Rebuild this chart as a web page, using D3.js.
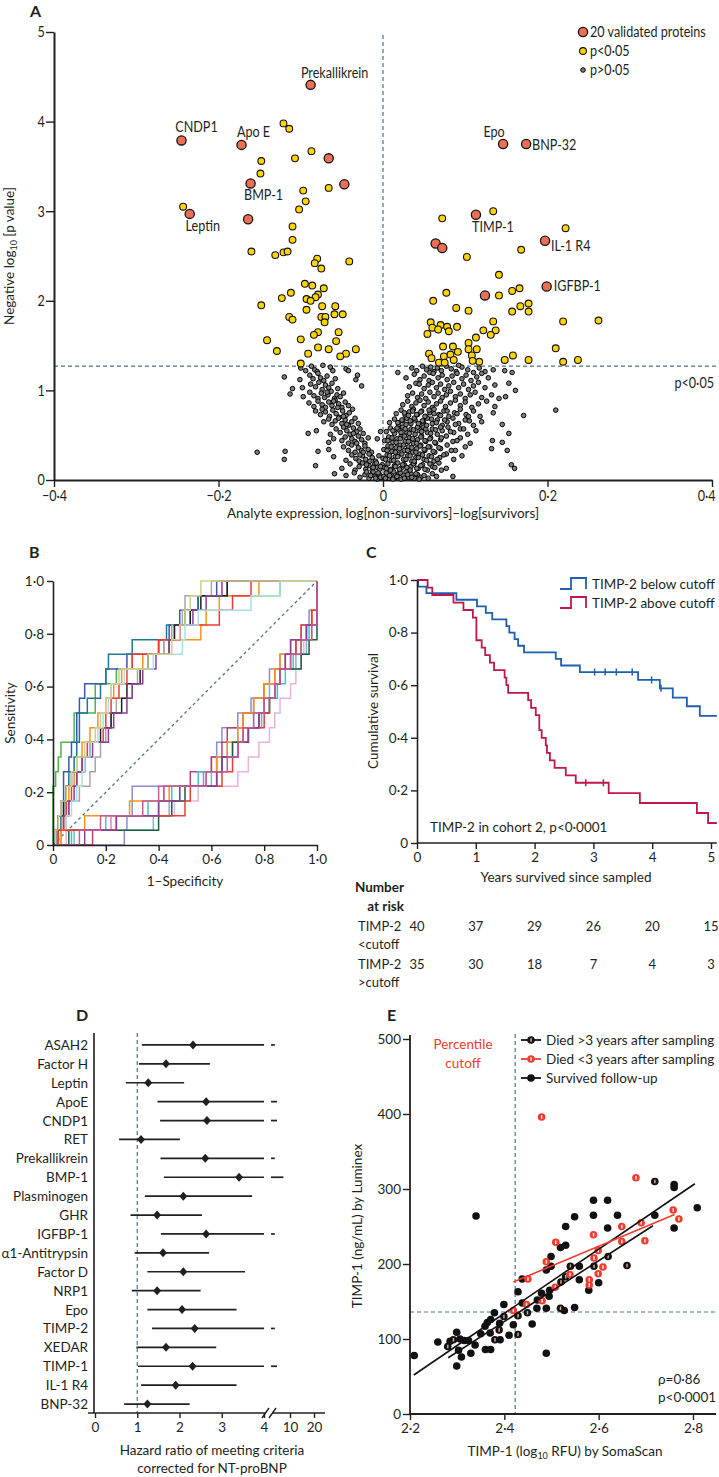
<!DOCTYPE html>
<html><head><meta charset="utf-8">
<script src="https://cdn.jsdelivr.net/npm/d3@7"></script>
<style>body{margin:0;background:#fff}svg{display:block}</style>
</head><body>
<svg id="c" width="719" height="1477"></svg>
<script>
// ---------------- DATA ----------------
// Panel A: volcano
const volcanoXTicks = [-0.4,-0.2,0,0.2,0.4];
const volcanoYTicks = [0,1,2,3,4,5];
const validatedProteins = [
 ["Prekallikrein",-0.088,4.41],["CNDP1",-0.245,3.79],["Apo E",-0.172,3.74],["",-0.066,3.59],
 ["BMP-1",-0.161,3.31],["",-0.047,3.30],["Leptin",-0.235,2.97],["",-0.164,2.91],
 ["Epo",0.146,3.75],["BNP-32",0.174,3.75],["TIMP-1",0.113,2.96],["",0.064,2.64],
 ["",0.072,2.59],["IL-1 R4",0.197,2.67],["IGFBP-1",0.199,2.16],["",0.124,2.06]
];
const significantPoints = [
 [-0.121,3.98],[-0.114,3.92],[-0.087,3.67],[-0.107,3.59],[-0.148,3.56],[-0.149,3.42],[-0.097,3.23],[-0.066,3.26],
 [-0.094,3.11],[-0.102,3.02],[-0.243,3.05],[-0.110,2.83],[-0.110,2.68],[-0.160,2.55],[-0.131,2.51],[-0.121,2.54],
 [-0.116,2.55],[-0.080,2.47],[-0.041,2.44],[-0.083,2.42],[-0.075,2.36],[-0.095,2.19],[-0.086,2.17],[-0.072,2.14],
 [-0.112,2.09],[-0.079,2.07],[-0.082,2.04],[-0.123,2.03],[-0.093,2.02],[-0.088,2.00],[-0.148,1.95],[-0.074,1.94],
 [-0.058,1.94],[-0.093,1.90],[-0.049,1.85],[-0.059,1.85],[-0.075,1.82],[-0.070,1.82],[-0.114,1.82],[-0.110,1.79],
 [-0.071,1.76],[-0.079,1.65],[-0.084,1.62],[-0.054,1.65],[-0.100,1.57],[-0.057,1.55],[-0.141,1.56],[-0.079,1.48],
 [-0.066,1.46],[-0.033,1.46],[-0.129,1.44],[-0.091,1.41],[-0.045,1.41],[-0.052,1.38],[-0.100,1.30],
 [0.072,2.92],[0.134,3.00],[0.222,2.81],[0.168,2.57],[0.102,2.49],[0.141,2.29],[0.166,2.14],[0.157,2.11],
 [0.077,2.09],[0.141,2.06],[0.061,2.00],[0.177,1.97],[0.167,1.94],[0.089,1.92],[0.104,1.89],[0.157,1.88],
 [0.177,1.88],[0.134,1.77],[0.219,1.77],[0.262,1.78],[0.058,1.76],[0.070,1.73],[0.060,1.70],[0.078,1.71],
 [0.090,1.71],[0.067,1.68],[0.080,1.66],[0.137,1.67],[0.122,1.67],[0.131,1.62],[0.054,1.63],[0.113,1.59],
 [0.104,1.53],[0.073,1.49],[0.085,1.49],[0.210,1.47],[0.104,1.46],[0.114,1.46],[0.056,1.41],[0.091,1.43],
 [0.082,1.40],[0.074,1.38],[0.108,1.39],[0.158,1.39],[0.059,1.36],[0.086,1.34],[0.148,1.34],[0.177,1.34],
 [0.219,1.32],[0.237,1.34],[0.117,1.32],[0.068,1.31],[0.075,1.31],[0.109,1.33]
];
const nonSignificantPoints = [
 [-.100,1.25],[-.094,1.22],[-.087,1.27],[-.083,1.23],[-.080,1.21],[-.064,1.26],[-.045,1.24],[-.042,1.22],[-.061,1.22],[-.073,1.28],
 [-.120,1.15],[-.101,1.12],[-.089,1.17],[-.085,1.13],[-.079,1.19],[-.076,1.14],[-.072,1.11],[-.068,1.16],[-.033,1.12],[-.031,1.17],[-.058,1.13],
 [-.098,1.03],[-.110,1.02],[-.088,1.07],[-.082,1.04],[-.078,1.09],[-.074,1.01],[-.070,1.06],[-.066,1.03],[-.062,1.08],[-.026,1.05],[-.055,1.02],
 [-.113,.96],[-.097,.93],[-.089,.98],[-.084,.94],[-.079,.91],[-.075,.97],[-.071,.92],[-.067,.95],[-.063,.99],[-.059,.91],[-.056,.95],[-.052,.93],[-.048,.97],
 [-.090,.86],[-.084,.82],[-.079,.88],[-.074,.84],[-.070,.81],[-.066,.87],[-.062,.83],[-.058,.89],[-.054,.85],[-.050,.81],[-.046,.87],[-.042,.83],
 [-.082,.77],[-.076,.73],[-.070,.76],[-.065,.71],[-.061,.78],[-.057,.74],[-.053,.70],[-.049,.77],[-.045,.72],[-.041,.75],[-.037,.79],[-.074,.79],
 [-.072,.65],[-.066,.68],[-.062,.62],[-.058,.66],[-.054,.69],[-.050,.63],[-.046,.67],[-.042,.61],[-.038,.65],[-.034,.69],[-.030,.63],
 [-.091,.52],[-.081,.55],[-.057,.57],[-.052,.53],[-.048,.59],[-.044,.55],[-.040,.51],[-.036,.58],[-.032,.54],[-.028,.57],[-.024,.52],[-.003,.54],[-.064,.51],
 [-.066,.42],[-.060,.46],[-.050,.44],[-.046,.48],[-.042,.41],[-.038,.46],[-.034,.43],[-.030,.49],[-.026,.45],[-.022,.41],[-.018,.47],[-.007,.46],
 [-.153,.31],[-.119,.32],[-.079,.32],[-.066,.34],[-.048,.37],[-.042,.33],[-.038,.39],[-.034,.31],[-.030,.36],[-.026,.33],[-.022,.38],[-.018,.34],[-.014,.31],
 [-.120,.23],[-.060,.26],[-.045,.22],[-.038,.28],[-.033,.24],[-.029,.21],[-.025,.27],[-.021,.23],[-.017,.29],[-.013,.25],[-.009,.21],[-.005,.27],
 [-.082,.16],[-.050,.13],[-.040,.18],[-.034,.11],[-.029,.15],[-.025,.19],[-.021,.12],[-.017,.16],[-.013,.11],[-.010,.18],[-.007,.14],[-.004,.12],[-.001,.17],
 [-.059,.07],[-.045,.05],[-.035,.08],[-.028,.03],[-.022,.06],[-.017,.02],[-.013,.07],[-.010,.04],[-.007,.01],[-.004,.06],[-.002,.03],[-.012,.09],[-.020,.09],
 [-.003,.03],[-.006,.08],[-.009,.02],[-.015,.05],[-.003,.15],[-.008,.19],[-.012,.14],[-.016,.21],[-.020,.17],[-.024,.31],[-.028,.28],[-.032,.41],[-.036,.52],[-.044,.62],[-.048,.71],[-.055,.81],[-.060,.88],[-.068,.98],
 [.018,1.20],[.035,1.25],[.041,1.22],[.048,1.27],[.053,1.23],[.058,1.26],[.062,1.21],[.066,1.25],[.071,1.22],[.077,1.27],[.083,1.24],[.089,1.21],[.096,1.26],[.103,1.23],[.110,1.20],[.117,1.25],[.124,1.21],[.134,1.23],[.148,1.22],[.057,1.20],[.092,1.28],
 [.028,1.14],[.038,1.18],[.045,1.12],[.050,1.16],[.056,1.11],[.061,1.19],[.067,1.14],[.072,1.17],[.078,1.12],[.084,1.16],[.090,1.19],[.096,1.13],[.101,1.17],[.107,1.11],[.114,1.15],[.120,1.19],[.128,1.14],[.157,1.20],
 [.032,1.04],[.040,1.08],[.044,1.07],[.050,1.02],[.055,1.06],[.060,1.09],[.065,1.03],[.070,1.07],[.075,1.01],[.080,1.05],[.086,1.09],[.092,1.03],[.098,1.07],[.104,1.01],[.110,1.05],[.116,1.09],[.124,1.03],[.136,1.06],[.153,1.08],[.161,1.00],
 [.030,.94],[.036,.97],[.042,.92],[.047,.96],[.052,.91],[.057,.98],[.062,.93],[.067,.97],[.072,.92],[.077,.95],[.082,.99],[.088,.93],[.094,.96],[.100,.91],[.106,.95],[.112,.98],[.120,.92],[.132,.95],[.141,.91],[.149,.93],
 [.024,.84],[.030,.88],[.035,.82],[.040,.86],[.045,.89],[.050,.83],[.055,.87],[.060,.81],[.065,.85],[.070,.88],[.076,.82],[.082,.86],[.088,.89],[.094,.83],[.100,.87],[.108,.81],[.116,.85],[.126,.88],[.136,.82],
 [.016,.74],[.022,.78],[.027,.72],[.032,.76],[.037,.79],[.042,.73],[.047,.77],[.052,.71],[.057,.75],[.062,.79],[.068,.73],[.074,.77],[.080,.71],[.087,.75],[.094,.79],[.101,.73],[.110,.77],[.118,.71],[.134,.75],[.171,.72],[.210,.78],
 [.008,.64],[.014,.68],[.019,.62],[.024,.66],[.029,.69],[.034,.63],[.039,.67],[.044,.61],[.049,.65],[.054,.69],[.060,.63],[.066,.67],[.072,.61],[.078,.65],[.085,.69],[.092,.63],[.100,.67],[.110,.61],[.120,.65],[.145,.62],
 [.004,.54],[.009,.58],[.014,.52],[.019,.56],[.024,.59],[.029,.53],[.034,.57],[.039,.51],[.044,.55],[.049,.59],[.054,.53],[.060,.57],[.066,.51],[.072,.55],[.079,.59],[.086,.53],[.094,.57],[.103,.51],[.113,.55],[.153,.52],
 [.002,.44],[.007,.48],[.012,.42],[.017,.46],[.022,.49],[.027,.43],[.032,.47],[.037,.41],[.042,.45],[.047,.49],[.052,.43],[.058,.47],[.064,.41],[.070,.45],[.077,.49],[.085,.43],[.094,.47],[.106,.41],[.133,.44],[.145,.42],
 [.001,.34],[.006,.38],[.011,.32],[.016,.36],[.021,.39],[.026,.33],[.031,.37],[.036,.31],[.041,.35],[.046,.39],[.051,.33],[.057,.37],[.063,.31],[.070,.35],[.078,.39],[.088,.33],[.100,.37],[.132,.35],[.151,.33],
 [.000,.24],[.005,.28],[.010,.22],[.015,.26],[.020,.29],[.025,.23],[.030,.27],[.035,.21],[.040,.25],[.045,.29],[.050,.23],[.056,.27],[.062,.21],[.069,.25],[.077,.29],[.086,.23],[.096,.27],
 [.002,.14],[.006,.18],[.010,.12],[.014,.16],[.018,.19],[.022,.13],[.026,.17],[.030,.11],[.034,.15],[.038,.19],[.043,.13],[.048,.17],[.054,.11],[.060,.15],[.068,.19],[.077,.13],[.156,.17],[.160,.13],
 [.001,.04],[.004,.08],[.007,.02],[.010,.06],[.013,.09],[.016,.03],[.019,.07],[.022,.01],[.025,.05],[.028,.09],[.031,.03],[.034,.07],[.038,.02],[.042,.06],[.046,.03],[.085,.04],
 [.003,.02],[.008,.05],[.012,.01],[.017,.04],[.021,.08],[.026,.02],[.030,.06],[.035,.03],[.040,.07],[.044,.01],[.050,.05],[.055,.02],[.060,.07],[.065,.04],
 [.004,.13],[.009,.11],[.015,.15],[.020,.12],[.024,.17],[.029,.14],[.033,.11],[.037,.18],[.041,.13],[.046,.16],[.051,.12],[.057,.18],[.063,.14],[.071,.11],
 [.003,.23],[.008,.27],[.013,.22],[.018,.26],[.023,.29],[.028,.23],[.033,.27],[.038,.21],[.043,.25],[.048,.28],[.053,.22],[.059,.26],[.066,.23],[.074,.28],
 [.005,.33],[.010,.37],[.015,.31],[.020,.35],[.025,.39],[.030,.33],[.035,.36],[.040,.31],[.045,.38],[.050,.34],[.055,.37],[.061,.32],[.068,.36],[.083,.33],
 [.006,.44],[.011,.47],[.016,.42],[.021,.46],[.026,.49],[.031,.43],[.036,.46],[.041,.41],[.046,.48],[.051,.44],[.057,.46],[.063,.42],[.071,.47],[.090,.44],
 [.012,.55],[.017,.58],[.022,.53],[.027,.57],[.032,.52],[.037,.56],[.042,.59],[.047,.54],[.052,.57],[.058,.52],[.064,.56],[.070,.59],[.082,.54],[.098,.57],
 [.018,.64],[.023,.67],[.028,.62],[.033,.66],[.038,.69],[.043,.63],[.048,.66],[.053,.61],[.059,.68],[.065,.64],[.075,.67],[.088,.62],[.105,.66],
 [.026,.75],[.031,.72],[.036,.77],[.041,.73],[.046,.76],[.051,.71],[.056,.78],[.062,.74],[.070,.72],[.078,.77],[.090,.74],[.104,.71]
];
const pThreshold = 1.27;

// Panel B: ROC curves — false-positive rate at which each of 18 sensitivity steps occurs
const rocTicks = [0,0.2,0.4,0.6,0.8,1.0];
const rocColors = ["#4cb848","#3a56b5","#1f7790","#f7941d","#a6a6a6","#231f20","#ef3b36","#8b3f96","#a9dfe6","#cfcf8f",
                   "#8e8cc8","#b5407d","#e6b3da","#78b4d8","#3cc6cc","#f7941d","#1b5e3b","#ef3b36","#8b3f96","#c45c9c"];
const rocSteps = [
 [0,0,0,0,0.01,0.02,0.03,0.08,0.08,0.16,0.16,0.24,0.30,0.40,0.46,0.52,0.55,0.86],
 [0.01,0.02,0.03,0.04,0.04,0.06,0.07,0.09,0.09,0.10,0.12,0.20,0.28,0.40,0.44,0.48,0.55,0.62],
 [0.02,0.03,0.04,0.05,0.06,0.08,0.09,0.10,0.10,0.13,0.18,0.20,0.21,0.30,0.43,0.50,0.55,0.66],
 [0.03,0.04,0.05,0.06,0.08,0.09,0.11,0.14,0.17,0.20,0.23,0.26,0.34,0.42,0.56,0.58,0.63,0.78],
 [0.02,0.05,0.06,0.10,0.14,0.16,0.18,0.20,0.22,0.24,0.30,0.32,0.36,0.42,0.45,0.49,0.50,0.60],
 [0.01,0.02,0.04,0.05,0.07,0.12,0.14,0.18,0.22,0.26,0.28,0.33,0.36,0.44,0.46,0.52,0.56,0.66],
 [0.03,0.04,0.05,0.07,0.09,0.11,0.13,0.19,0.20,0.22,0.25,0.28,0.30,0.40,0.48,0.63,0.68,0.75],
 [0.02,0.04,0.06,0.08,0.09,0.11,0.15,0.21,0.23,0.28,0.30,0.34,0.39,0.44,0.48,0.53,0.58,0.64],
 [0.03,0.05,0.07,0.09,0.11,0.12,0.14,0.17,0.19,0.21,0.22,0.27,0.38,0.49,0.50,0.55,0.75,0.86],
 [0.01,0.02,0.03,0.05,0.07,0.09,0.12,0.16,0.18,0.20,0.22,0.25,0.36,0.45,0.48,0.50,0.52,0.56],
 [0.27,0.28,0.30,0.30,0.57,0.60,0.62,0.64,0.70,0.75,0.80,0.82,0.86,0.90,0.94,0.97,1.0,1.0],
 [0.15,0.22,0.40,0.42,0.52,0.60,0.64,0.66,0.72,0.76,0.80,0.84,0.88,0.92,0.96,0.98,1.0,1.0],
 [0.05,0.22,0.46,0.55,0.70,0.74,0.78,0.82,0.84,0.86,0.90,0.92,0.94,0.95,0.96,0.98,1.0,1.0],
 [0.08,0.38,0.44,0.48,0.60,0.62,0.66,0.70,0.76,0.80,0.82,0.86,0.92,0.96,0.98,1.0,1.0,1.0],
 [0.07,0.20,0.36,0.45,0.55,0.62,0.68,0.74,0.79,0.82,0.85,0.88,0.91,0.94,0.97,1.0,1.0,1.0],
 [0.03,0.12,0.29,0.44,0.58,0.62,0.66,0.70,0.72,0.76,0.80,0.84,0.86,0.94,0.96,0.98,1.0,1.0],
 [0.06,0.40,0.45,0.50,0.62,0.64,0.68,0.74,0.78,0.82,0.84,0.86,0.94,0.97,1.0,1.0,1.0,1.0],
 [0.02,0.24,0.50,0.52,0.64,0.68,0.70,0.72,0.80,0.82,0.84,0.86,0.90,0.92,0.94,0.98,1.0,1.0],
 [0.12,0.24,0.40,0.48,0.62,0.64,0.70,0.74,0.78,0.80,0.84,0.86,0.88,0.90,0.96,1.0,1.0,1.0],
 [0.10,0.18,0.34,0.40,0.58,0.66,0.70,0.72,0.76,0.80,0.84,0.86,0.90,0.94,0.98,1.0,1.0,1.0]
];

// Panel C: Kaplan–Meier
const kmYears = [0,1,2,3,4,5];
const kmSurvTicks = [0,0.2,0.4,0.6,0.8,1.0];
const kmBelow = [[0,1],[0.02,0.975],[0.16,0.95],[0.67,0.925],[1.02,0.90],[1.17,0.875],[1.28,0.85],[1.52,0.825],[1.57,0.80],[1.66,0.775],[1.72,0.75],[1.82,0.725],[2.36,0.70],[2.45,0.675],[2.77,0.65],[3.76,0.62],[4.13,0.588],[4.35,0.553],[4.59,0.52],[4.81,0.483],[5.1,0.483]];
const kmAbove = [[0,1],[0.18,0.971],[0.26,0.943],[0.62,0.914],[0.79,0.886],[0.95,0.857],[1.01,0.771],[1.10,0.743],[1.16,0.714],[1.24,0.686],[1.31,0.657],[1.49,0.629],[1.52,0.60],[1.55,0.571],[1.89,0.543],[1.94,0.514],[2.02,0.486],[2.08,0.429],[2.12,0.40],[2.19,0.371],[2.21,0.343],[2.26,0.314],[2.34,0.286],[2.53,0.257],[2.70,0.229],[3.26,0.19],[3.79,0.152],[4.76,0.114],[4.95,0.076],[5.1,0.076]];
const kmBelowCensor = [3.02,3.20,3.39,3.66,3.99,4.15];
const kmAboveCensor = [2.87,3.17];
const atRiskBelow = [40,37,29,26,20,15];
const atRiskAbove = [35,30,18,7,4,3];

// Panel D: forest plot
const forestNames = ["ASAH2","Factor H","Leptin","ApoE","CNDP1","RET","Prekallikrein","BMP-1","Plasminogen","GHR","IGFBP-1","α1-Antitrypsin","Factor D","NRP1","Epo","TIMP-2","XEDAR","TIMP-1","IL-1 R4","BNP-32"];
const forestHR =   [2.32,1.68,1.26,2.63,2.65,1.09,2.61,3.41,2.09,1.47,2.63,1.61,2.09,1.47,2.06,2.36,1.68,2.31,1.91,1.24];
const forestLo =   [1.11,1.04,0.73,1.48,1.54,0.57,1.55,1.63,1.18,0.84,1.56,0.94,1.24,0.87,1.24,1.35,0.98,1.02,1.09,0.69];
const forestHi =   [6.5,2.72,2.11,7.0,7.0,2.01,6.5,8.5,3.72,2.53,6.5,2.70,3.55,2.50,3.35,6.5,2.87,7.0,3.35,2.24];
const forestTicks = [0,1,2,3,4,10,20];

// Panel E: TIMP-1 Luminex vs SomaScan
const eXTicks = [2.2,2.4,2.6,2.8];
const eYTicks = [0,100,200,300,400,500];
const survivedPts = [[2.209,78],[2.259,96],[2.285,97],[2.299,109],[2.299,64],[2.309,76],[2.303,85],[2.315,98],[2.324,98],[2.306,100],[2.329,81],[2.338,92],[2.340,264],[2.350,107],[2.359,117],[2.364,122],[2.360,86],[2.371,86],[2.370,108],[2.371,126],[2.379,135],[2.390,121],[2.391,99],[2.399,146],[2.410,105],[2.419,119],[2.429,163],[2.438,180],[2.438,148],[2.459,120],[2.469,141],[2.479,161],[2.489,141],[2.489,81],[2.489,192],[2.499,210],[2.499,197],[2.496,165],[2.519,222],[2.530,225],[2.530,250],[2.527,138],[2.549,263],[2.549,142],[2.559,197],[2.559,179],[2.589,285],[2.589,265],[2.619,285],[2.619,248],[2.640,265],[2.600,175],[2.579,165],[2.719,265],[2.760,306],[2.760,302],[2.760,248],[2.809,275],[2.495,157],[2.470,152]];
const diedLatePts = [[2.280,90],[2.292,99],[2.380,99],[2.389,112],[2.399,130],[2.429,131],[2.429,106],[2.449,135],[2.519,141],[2.520,176],[2.540,197],[2.590,197],[2.620,210],[2.660,198],[2.719,310],[2.530,183]];
const diedEarlyPts = [[2.479,396],[2.679,315],[2.758,272],[2.770,260],[2.690,255],[2.649,250],[2.698,231],[2.649,230],[2.589,239],[2.509,229],[2.599,218],[2.590,208],[2.489,203],[2.609,196],[2.599,187],[2.539,186],[2.450,180],[2.580,179],[2.580,172],[2.508,169],[2.447,146],[2.480,151],[2.419,138]];
const fitAll = [[2.208,52],[2.804,307]];
const fitLate = [[2.281,75],[2.715,251]];
const fitEarly = [[2.419,176],[2.761,266]];
const eCutoffX = 2.423, eCutoffY = 136;

// ---------------- DRAWING ----------------
const svg = d3.select("#c");
const INK = "#231f20", DASH = "#4e7384";
const FR = 'Lato,"Open Sans",sans-serif';
const NARROW = 0.84;
const dotFmt = v => v === 0 ? "0" : d3.format(".1f")(v).replace("-", "−").replace(".", "·");

function styleAxis(g, fs, sw, sx) {
  g.select(".domain").attr("stroke", INK).attr("stroke-width", sw || 1.6);
  g.selectAll(".tick line").attr("stroke", INK).attr("stroke-width", 1.4);
  const t = g.selectAll(".tick text").attr("font-family", FR).attr("font-size", fs).attr("fill", INK);
  if (sx) t.attr("transform", `scale(${sx},1)`);
}
function txt(x, y, s, opt) {
  opt = opt || {};
  const t = svg.append("text").text(s)
    .attr("font-family", FR).attr("font-size", opt.size || 13.5)
    .attr("fill", opt.fill || INK).attr("text-anchor", opt.anchor || "start");
  if (opt.weight) t.attr("font-weight", opt.weight);
  if (opt.rotate) t.attr("x", x).attr("y", y).attr("transform", `rotate(-90,${x},${y})`);
  else if (opt.sx) t.attr("x", 0).attr("y", 0).attr("transform", `translate(${x},${y}) scale(${opt.sx},1)`);
  else t.attr("x", x).attr("y", y);
  return t;
}

// ===== Panel A =====
const xA = d3.scaleLinear().domain([-0.4, 0.4]).range([54, 712]);
const yA = d3.scaleLinear().domain([0, 5]).range([480, 32]);
txt(30, 17, "A", {size: 16, weight: "bold"});
svg.append("line").attr("x1", xA(0)).attr("x2", xA(0)).attr("y1", yA(5) + 3).attr("y2", yA(0))
  .attr("stroke", DASH).attr("stroke-width", 1.2).attr("stroke-dasharray", "4,3");
svg.append("line").attr("x1", xA(-0.4)).attr("x2", xA(0.4) + 4).attr("y1", yA(pThreshold)).attr("y2", yA(pThreshold))
  .attr("stroke", DASH).attr("stroke-width", 1.2).attr("stroke-dasharray", "4,3");
const gAx = svg.append("g").attr("transform", "translate(0,480)")
  .call(d3.axisBottom(xA).tickValues(volcanoXTicks).tickSize(7).tickSizeOuter(0).tickPadding(3).tickFormat(dotFmt));
styleAxis(gAx, 15, 2, NARROW);
gAx.selectAll(".tick text").filter(d => d === 0.4).attr("text-anchor", "end").attr("dx", "0.25em");
const gAy = svg.append("g").attr("transform", "translate(54,0)")
  .call(d3.axisLeft(yA).tickValues(volcanoYTicks).tickSize(8).tickSizeOuter(0).tickPadding(3).tickFormat(d3.format("d")));
styleAxis(gAy, 15, 2, NARROW);
txt(383, 518, "Analyte expression, log[non-survivors]–log[survivors]", {anchor: "middle", size: 13.5});
const yl = svg.append("text").attr("transform", "translate(14,256) rotate(-90)").attr("text-anchor", "middle")
  .attr("font-family", FR).attr("font-size", 13.5).attr("fill", INK);
yl.append("tspan").text("Negative log");
yl.append("tspan").text("10").attr("font-size", 9).attr("dy", 3);
yl.append("tspan").text(" [p value]").attr("dy", -3);
txt(714, 388, "p<0·05", {size: 15, anchor: "end", sx: NARROW});

svg.append("g").selectAll("circle").data(nonSignificantPoints).join("circle")
  .attr("cx", d => xA(d[0])).attr("cy", d => yA(d[1])).attr("r", 2.3)
  .attr("fill", "#7d7d7d").attr("stroke", "#000").attr("stroke-width", 1);
svg.append("g").selectAll("circle").data(significantPoints).join("circle")
  .attr("cx", d => xA(d[0])).attr("cy", d => yA(d[1])).attr("r", 3.4)
  .attr("fill", "#ffd400").attr("stroke", "#111").attr("stroke-width", 1.1);
svg.append("g").selectAll("circle").data(validatedProteins).join("circle")
  .attr("cx", d => xA(d[1])).attr("cy", d => yA(d[2])).attr("r", 4.6)
  .attr("fill", "#ea6f55").attr("stroke", "#111").attr("stroke-width", 1.3);
const labelLayout = {
  "Prekallikrein": [24, -7, "middle"], "CNDP1": [15, -8, "middle"], "Apo E": [12, -8, "middle"],
  "BMP-1": [13, 17, "middle"], "Leptin": [13, 17, "middle"], "Epo": [-9, -7, "middle"],
  "BNP-32": [6, 6, "start"], "TIMP-1": [17, 17, "middle"], "IL-1 R4": [6, 10, "start"], "IGFBP-1": [7, 5, "start"]
};
validatedProteins.filter(d => d[0]).forEach(d => {
  const L = labelLayout[d[0]];
  txt(xA(d[1]) + L[0], yA(d[2]) + L[1], d[0], {size: 15, anchor: L[2], sx: NARROW});
});
// legend A
const legA = [["20 validated proteins", 4.6, "#ea6f55", 1.3, "#111"], ["p<0·05", 3.4, "#ffd400", 1.1, "#111"], ["p>0·05", 2.3, "#7d7d7d", 1, "#000"]];
legA.forEach((d, i) => {
  const y = 32 + i * 19;
  svg.append("circle").attr("cx", 583).attr("cy", y).attr("r", d[1]).attr("fill", d[2]).attr("stroke", d[4]).attr("stroke-width", d[3]);
  txt(590, y + 5, d[0], {size: 15, sx: NARROW});
});

// ===== Panel B =====
const xB = d3.scaleLinear().domain([0, 1]).range([53, 317]);
const yB = d3.scaleLinear().domain([0, 1]).range([845, 581]);
txt(29, 558, "B", {size: 16, weight: "bold"});
svg.append("line").attr("x1", xB(0)).attr("y1", yB(0)).attr("x2", xB(1)).attr("y2", yB(1))
  .attr("stroke", DASH).attr("stroke-width", 1.3).attr("stroke-dasharray", "3,3");
const rocLine = d3.line().x(d => xB(d[0])).y(d => yB(d[1]));
const rocPaths = rocSteps.map(st => {
  const pts = [[0, 0]];
  st.forEach((f, k) => { pts.push([f, k / 18]); pts.push([f, (k + 1) / 18]); });
  pts.push([1, 1]);
  return pts;
});
svg.append("g").selectAll("path").data(rocPaths).join("path")
  .attr("d", rocLine).attr("fill", "none").attr("stroke", (d, i) => rocColors[i]).attr("stroke-width", 1.5);
const gBx = svg.append("g").attr("transform", "translate(0,845)")
  .call(d3.axisBottom(xB).tickValues(rocTicks).tickSize(6).tickSizeOuter(0).tickPadding(3).tickFormat(dotFmt));
styleAxis(gBx, 13.5);
const gBy = svg.append("g").attr("transform", "translate(53,0)")
  .call(d3.axisLeft(yB).tickValues(rocTicks).tickSize(6).tickSizeOuter(0).tickPadding(3).tickFormat(dotFmt));
styleAxis(gBy, 13.5);
txt(185, 886, "1–Specificity", {anchor: "middle"});
txt(15, 713, "Sensitivity", {anchor: "middle", rotate: true});

// ===== Panel C =====
const xC = d3.scaleLinear().domain([0, 5]).range([417, 711]);
const yC = d3.scaleLinear().domain([0, 1]).range([843, 580]);
txt(366, 558, "C", {size: 16, weight: "bold"});
const kmLine = d3.line().x(d => xC(d[0])).y(d => yC(d[1])).curve(d3.curveStepAfter);
const stepAt = (arr, t) => { let s = 1; arr.forEach(p => { if (p[0] <= t) s = p[1]; }); return s; };
[[kmBelow, "#1f5fae", kmBelowCensor], [kmAbove, "#c0174a", kmAboveCensor]].forEach(([arr, col, cens]) => {
  svg.append("path").datum(arr).attr("d", kmLine).attr("fill", "none").attr("stroke", col).attr("stroke-width", 1.8);
  svg.append("g").selectAll("line").data(cens).join("line")
    .attr("x1", d => xC(d)).attr("x2", d => xC(d))
    .attr("y1", d => yC(stepAt(arr, d)) - 3.5).attr("y2", d => yC(stepAt(arr, d)) + 3.5)
    .attr("stroke", col).attr("stroke-width", 1.5);
});
const gCx = svg.append("g").attr("transform", "translate(0,843)")
  .call(d3.axisBottom(xC).tickValues(kmYears).tickSize(6).tickSizeOuter(0).tickPadding(3).tickFormat(d3.format("d")));
styleAxis(gCx, 13.5);
gCx.select(".domain").attr("d", `M${xC(0)},0H${xC(5.1)}`);
const gCy = svg.append("g").attr("transform", "translate(417,0)")
  .call(d3.axisLeft(yC).tickValues(kmSurvTicks).tickSize(6).tickSizeOuter(0).tickPadding(3).tickFormat(dotFmt));
styleAxis(gCy, 13.5);
txt(378, 711, "Cumulative survival", {anchor: "middle", rotate: true});
txt(566, 882, "Years survived since sampled", {anchor: "middle"});
txt(430, 832, "TIMP-2 in cohort 2, p<0·0001", {size: 13.5});
[["TIMP-2 below cutoff", "#1f5fae"], ["TIMP-2 above cutoff", "#c0174a"]].forEach((d, i) => {
  const y = 584 + i * 19;
  svg.append("path").attr("d", `M560,${y + 5}H571V${y - 6}H586V${y + 5}`).attr("fill", "none").attr("stroke", d[1]).attr("stroke-width", 1.8);
  txt(592, y + 5, d[0], {size: 13.5});
});
txt(404, 892, "Number", {anchor: "end", weight: "bold", size: 13.5});
txt(404, 911, "at risk", {anchor: "end", weight: "bold", size: 13.5});
txt(358, 931, "TIMP-2", {size: 13});
txt(358, 949, "<cutoff", {size: 13});
txt(358, 969, "TIMP-2", {size: 13});
txt(358, 987, ">cutoff", {size: 13});
kmYears.forEach((yr, i) => {
  txt(xC(yr), 931, atRiskBelow[i], {anchor: "middle", size: 13});
  txt(xC(yr), 969, atRiskAbove[i], {anchor: "middle", size: 13});
});

// ===== Panel D =====
const xD = d3.scaleLinear().domain([0, 4, 10, 20]).range([95, 264, 290, 314]);
const yD = d3.scaleBand().domain(forestNames).range([1035.5, 1413.5]);
const rowY = n => yD(n) + yD.bandwidth() / 2;
txt(76, 1021, "D", {size: 16, weight: "bold"});
svg.append("line").attr("x1", xD(1)).attr("x2", xD(1)).attr("y1", 1033).attr("y2", 1413)
  .attr("stroke", DASH).attr("stroke-width", 1.2).attr("stroke-dasharray", "4,3");
forestNames.forEach((n, i) => {
  const y = rowY(n);
  svg.append("line").attr("x1", xD(forestLo[i])).attr("x2", xD(Math.min(forestHi[i], 4)))
    .attr("y1", y).attr("y2", y).attr("stroke", INK).attr("stroke-width", 1.7);
  if (forestHi[i] > 4) {
    svg.append("line").attr("x1", xD(4) + 7).attr("x2", xD(forestHi[i])).attr("y1", y).attr("y2", y)
      .attr("stroke", INK).attr("stroke-width", 1.7);
  }
  const cx = xD(forestHR[i]);
  svg.append("path").attr("d", `M${cx},${y - 4.5}L${cx + 4},${y}L${cx},${y + 4.5}L${cx - 4},${y}Z`).attr("fill", INK);
  txt(88, y + 5, n, {anchor: "end", size: 13.5});
});
svg.append("line").attr("x1", 94).attr("x2", 94).attr("y1", 1033).attr("y2", 1413).attr("stroke", INK).attr("stroke-width", 1.6);
const gDx = svg.append("g").attr("transform", "translate(0,1413)")
  .call(d3.axisBottom(xD).tickValues(forestTicks).tickSize(5).tickSizeOuter(0).tickPadding(4).tickFormat(d3.format("d")));
styleAxis(gDx, 13.5);
gDx.select(".domain").attr("d", "M88,0H325");
gDx.append("rect").attr("x", 266).attr("y", -3).attr("width", 6).attr("height", 6).attr("fill", "#fff");
gDx.append("path").attr("d", "M262,5L269,-5M269,5L276,-5").attr("stroke", INK).attr("stroke-width", 1.4);
txt(212, 1455, "Hazard ratio of meeting criteria", {anchor: "middle"});
txt(212, 1473, "corrected for NT-proBNP", {anchor: "middle"});

// ===== Panel E =====
const xE = d3.scaleLinear().domain([2.2, 2.8]).range([410, 693]);
const yE = d3.scaleLinear().domain([0, 500]).range([1414, 1039]);
txt(387, 1021, "E", {size: 16, weight: "bold"});
svg.append("line").attr("x1", xE(eCutoffX)).attr("x2", xE(eCutoffX)).attr("y1", 1034).attr("y2", 1414)
  .attr("stroke", DASH).attr("stroke-width", 1.2).attr("stroke-dasharray", "4,3");
svg.append("line").attr("x1", 410).attr("x2", 716).attr("y1", yE(eCutoffY)).attr("y2", yE(eCutoffY))
  .attr("stroke", DASH).attr("stroke-width", 1.2).attr("stroke-dasharray", "4,3");
const eLine = d3.line().x(d => xE(d[0])).y(d => yE(d[1]));
function drawPts(arr, fill, mark) {
  const g = svg.append("g");
  g.selectAll("circle").data(arr).join("circle").attr("cx", d => xE(d[0])).attr("cy", d => yE(d[1])).attr("r", 3.8).attr("fill", fill);
  if (mark) g.selectAll("rect").data(arr).join("rect").attr("x", d => xE(d[0]) - 0.7).attr("y", d => yE(d[1]) - 1.8)
    .attr("width", 1.5).attr("height", 3.6).attr("fill", mark);
}
drawPts(survivedPts, "#111", null);
drawPts(diedLatePts, "#111", "#d9a878");
drawPts(diedEarlyPts, "#f03c2e", "#fde3df");
svg.append("path").datum(fitAll).attr("d", eLine).attr("stroke", "#111").attr("stroke-width", 1.6).attr("fill", "none");
svg.append("path").datum(fitLate).attr("d", eLine).attr("stroke", "#111").attr("stroke-width", 1.6).attr("fill", "none");
svg.append("path").datum(fitEarly).attr("d", eLine).attr("stroke", "#f03c2e").attr("stroke-width", 1.6).attr("fill", "none");
const gEx = svg.append("g").attr("transform", "translate(0,1414)")
  .call(d3.axisBottom(xE).tickValues(eXTicks).tickSize(6).tickSizeOuter(0).tickPadding(3).tickFormat(dotFmt));
styleAxis(gEx, 13.5, 1.8);
gEx.select(".domain").attr("d", "M410,0H716");
const gEy = svg.append("g").attr("transform", "translate(410,0)")
  .call(d3.axisLeft(yE).tickValues(eYTicks).tickSize(7).tickSizeOuter(0).tickPadding(2).tickFormat(d3.format("d")));
styleAxis(gEy, 13.5, 1.8);
gEy.select(".domain").attr("d", "M0,1035V1414");
txt(362, 1226, "TIMP-1 (ng/mL) by Luminex", {anchor: "middle", rotate: true});
const xl = svg.append("text").attr("x", 565).attr("y", 1456).attr("text-anchor", "middle").attr("font-family", FR).attr("font-size", 13.5).attr("fill", INK);
xl.append("tspan").text("TIMP-1 (log");
xl.append("tspan").text("10").attr("font-size", 9).attr("dy", 3);
xl.append("tspan").text(" RFU) by SomaScan").attr("dy", -3);
txt(463, 1049, "Percentile", {anchor: "middle", fill: "#ee3b2c"});
txt(463, 1068, "cutoff", {anchor: "middle", fill: "#ee3b2c"});
[["Died >3 years after sampling", "#111", "#d9a878", "#111"], ["Died <3 years after sampling", "#f03c2e", "#fde3df", "#f03c2e"], ["Survived follow-up", "#111", null, "#111"]]
  .forEach((d, i) => {
    const y = 1040 + i * 19;
    svg.append("line").attr("x1", 521).attr("x2", 541).attr("y1", y).attr("y2", y).attr("stroke", d[3]).attr("stroke-width", 1.8);
    svg.append("circle").attr("cx", 531).attr("cy", y).attr("r", 3.8).attr("fill", d[1]);
    if (d[2]) svg.append("rect").attr("x", 530.3).attr("y", y - 1.8).attr("width", 1.5).attr("height", 3.6).attr("fill", d[2]);
    txt(546, y + 5, d[0], {size: 13.5});
  });
txt(658, 1384, "ρ=0·86", {size: 13.5});
txt(658, 1402, "p<0·0001", {size: 13.5});
</script>
</body></html>
